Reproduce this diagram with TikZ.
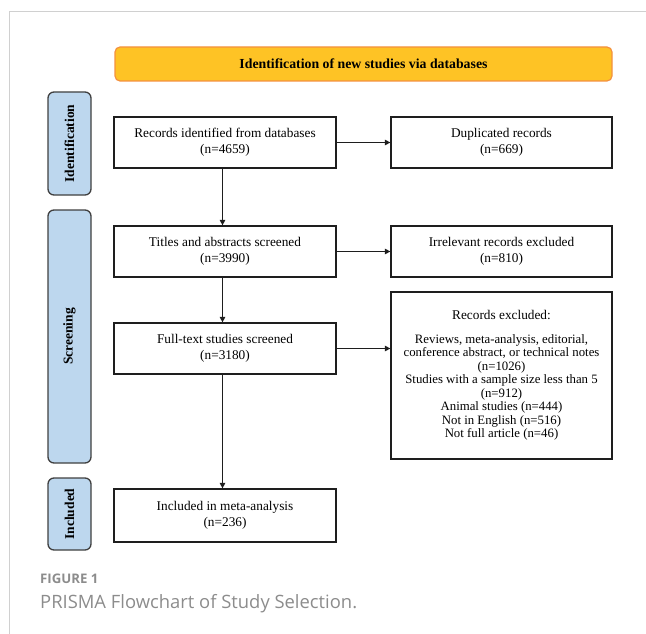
\documentclass[tikz,border=0pt]{standalone}
\usepackage{fontspec}
\setmainfont{Liberation Serif}
\newfontfamily\capfont{Open Sans}
\usepackage{tikz}
\usetikzlibrary{arrows.meta,positioning,calc}
\definecolor{ink}{RGB}{30,30,30}
\definecolor{amber}{RGB}{254,195,37}
\definecolor{amberedge}{RGB}{244,145,62}
\definecolor{paleblue}{RGB}{189,215,238}
\definecolor{framegray}{RGB}{208,208,208}
\definecolor{capgray}{RGB}{140,140,140}
\tikzset{
  flow/.style={line width=1.3pt,ink,-{Triangle[length=5.5pt,width=5.5pt]}},
  procbox/.style={draw=ink,line width=1.3pt,fill=white,minimum width=222pt,
    minimum height=51pt,align=center,inner sep=2pt,
    font=\fontsize{13.3}{16}\selectfont},
  headbox/.style={draw=amberedge,line width=1.2pt,fill=amber,rounded corners=5pt,
    minimum width=497pt,minimum height=34pt,
    font=\bfseries\fontsize{13.8}{16}\selectfont},
  stagebox/.style={draw=ink!85,line width=1.3pt,fill=paleblue,rounded corners=6pt,
    minimum height=43pt,rotate=90,inner sep=0pt,
    font=\bfseries\fontsize{13.5}{16}\selectfont},
  caption/.style={anchor=base west,inner sep=0pt,text=capgray}
}
\begin{document}
\begin{tikzpicture}[x=1pt,y=-1pt]
  \useasboundingbox (0,0) rectangle (646,634);
  \draw[framegray,line width=1pt] (646,12) -- (9,12) -- (9,634);
  % banner and stages
  \node[headbox] (head) at (363.5,64) {Identification of new studies via databases};
  \node[stagebox,minimum width=103pt] (idstage) at (69.5,143.5) {Identification};
  \node[stagebox,minimum width=253pt] (scrstage) at (69.5,336.5) {Screening};
  \node[stagebox,minimum width=72pt] (incstage) at (69.5,514) {Included};
  % main column
  \node[procbox] (rec) at (225,142.5) {Records identified from databases\\(n=4659)};
  \node[procbox] (tia) at (225,251.5) {Titles and abstracts screened\\(n=3990)};
  \node[procbox] (full) at (225,348.5) {Full-text studies screened\\(n=3180)};
  \node[procbox,minimum height=53pt] (incl) at (225,515.5) {Included in meta-analysis\\(n=236)};
  % exclusions
  \node[procbox,minimum width=221pt] (dup) at (501.5,142.5) {Duplicated records\\(n=669)};
  \node[procbox,minimum width=221pt] (irr) at (501.5,251.5) {Irrelevant records excluded\\(n=810)};
  \node[procbox,minimum width=221pt,minimum height=167pt,
    font=\fontsize{12.8}{13.5}\selectfont] (excl) at (501.5,375.5)
    {{\fontsize{13.3}{13.5}\selectfont Records excluded:}\\[10pt]
     Reviews, meta-analysis, editorial,\\
     conference abstract, or technical notes\\
     (n=1026)\\
     Studies with a sample size less than 5\\
     (n=912)\\
     Animal studies (n=444)\\
     Not in English (n=516)\\
     Not full article (n=46)};
  \draw[flow] ([xshift=-2.5pt]rec.south) -- ([xshift=-2.5pt]tia.north);
  \draw[flow] ([xshift=-2.5pt]tia.south) -- ([xshift=-2.5pt]full.north);
  \draw[flow] ([xshift=-2.5pt]full.south) -- ([xshift=-2.5pt]incl.north);
  \draw[flow] (rec) -- (dup);
  \draw[flow] (tia) -- (irr);
  \draw[flow] (full.east) -- (full.east -| excl.west);
  % caption
  \node[caption,font=\capfont\bfseries\fontsize{13.2}{16}\selectfont] (figno) at (40,583.5) {FIGURE 1};
  \node[caption,font=\capfont\fontsize{18.4}{20}\selectfont] (figcap) at (40,608.7) {PRISMA Flowchart of Study Selection.};
\end{tikzpicture}
\end{document}
